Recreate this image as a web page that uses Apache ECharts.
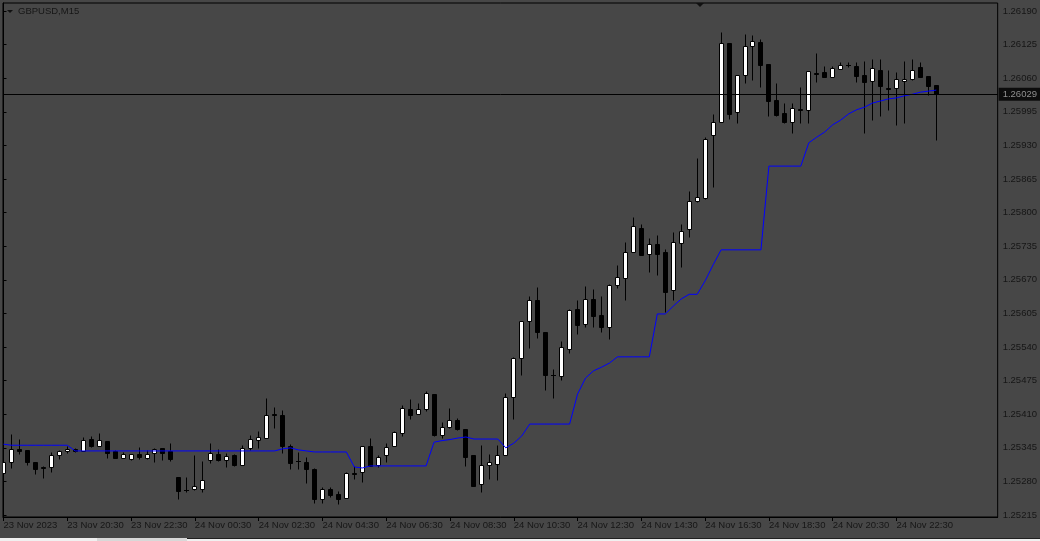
<!DOCTYPE html>
<html>
<head>
<meta charset="utf-8">
<title>GBPUSD,M15</title>
<script src="https://cdn.jsdelivr.net/npm/echarts@6/dist/echarts.min.js"></script>
<style>
  html, body { margin: 0; padding: 0; background: #474747; }
  #main { width: 1040px; height: 541px; }
</style>
</head>
<body>
<div id="main"></div>
<script>
// GBPUSD M15, one value per bar (bar 0 = 23 Nov 18:30)
var opens = [
  1.25296, 1.25318, 1.25343, 1.25341, 1.25318, 1.25308, 1.25308, 1.25331, 1.25339, 1.25343,
  1.25339, 1.25362, 1.25349, 1.25358, 1.25339, 1.25325, 1.25323, 1.25333, 1.25325, 1.25335,
  1.25345, 1.25339, 1.25289, 1.25264, 1.25265, 1.25265, 1.25321, 1.25333, 1.25321, 1.25331,
  1.25312, 1.25345, 1.25360, 1.25364, 1.25410, 1.25408, 1.25349, 1.25320, 1.25318, 1.25304,
  1.25246, 1.25265, 1.25256, 1.25248, 1.25296, 1.25298, 1.25349, 1.25312, 1.25331, 1.25349,
  1.25374, 1.25420, 1.25410, 1.25420, 1.25449, 1.25370, 1.25385, 1.25399, 1.25381, 1.25331,
  1.25275, 1.25312, 1.25314, 1.25331, 1.25443, 1.25519, 1.25590, 1.25631, 1.25569, 1.25486,
  1.25484, 1.25536, 1.25614, 1.25585, 1.25633, 1.25602, 1.25579, 1.25660, 1.25674, 1.25724,
  1.25770, 1.25720, 1.25739, 1.25724, 1.25650, 1.25741, 1.25768, 1.25823, 1.25828, 1.25950,
  1.25975, 1.26128, 1.25995, 1.26066, 1.26122, 1.26130, 1.26088, 1.26018, 1.25993, 1.25975,
  1.26000, 1.25999, 1.26070, 1.26072, 1.26062, 1.26078, 1.26086, 1.26084, 1.26066, 1.26055,
  1.26076, 1.26041, 1.26041, 1.26055, 1.26058, 1.26082, 1.26064, 1.26047
];
var closes = [
  1.25318, 1.25343, 1.25339, 1.25318, 1.25304, 1.25306, 1.25331, 1.25339, 1.25343, 1.25339,
  1.25360, 1.25349, 1.25360, 1.25335, 1.25325, 1.25333, 1.25333, 1.25327, 1.25333, 1.25343,
  1.25335, 1.25323, 1.25262, 1.25263, 1.25271, 1.25283, 1.25335, 1.25321, 1.25329, 1.25312,
  1.25345, 1.25362, 1.25366, 1.25408, 1.25408, 1.25349, 1.25316, 1.25319, 1.25304, 1.25246,
  1.25265, 1.25254, 1.25246, 1.25296, 1.25295, 1.25349, 1.25310, 1.25327, 1.25347, 1.25376,
  1.25422, 1.25408, 1.25420, 1.25451, 1.25370, 1.25385, 1.25399, 1.25381, 1.25327, 1.25271,
  1.25312, 1.25318, 1.25331, 1.25443, 1.25519, 1.25590, 1.25631, 1.25569, 1.25486, 1.25485,
  1.25540, 1.25612, 1.25583, 1.25633, 1.25600, 1.25579, 1.25660, 1.25675, 1.25724, 1.25774,
  1.25718, 1.25739, 1.25720, 1.25646, 1.25743, 1.25764, 1.25823, 1.25830, 1.25942, 1.25975,
  1.26128, 1.25991, 1.26066, 1.26122, 1.26132, 1.26086, 1.26016, 1.25989, 1.25975, 1.26002,
  1.25999, 1.26074, 1.26069, 1.26062, 1.26080, 1.26086, 1.26085, 1.26064, 1.26053, 1.26080,
  1.26045, 1.26040, 1.26058, 1.26058, 1.26076, 1.26062, 1.26045, 1.26029
];
var lows = [
  1.25292, 1.25306, 1.25333, 1.25312, 1.25294, 1.25287, 1.25298, 1.25323, 1.25335, 1.25337,
  1.25339, 1.25347, 1.25349, 1.25325, 1.25325, 1.25325, 1.25321, 1.25323, 1.25323, 1.25318,
  1.25321, 1.25320, 1.25246, 1.25260, 1.25263, 1.25260, 1.25316, 1.25320, 1.25308, 1.25310,
  1.25312, 1.25341, 1.25345, 1.25364, 1.25383, 1.25335, 1.25304, 1.25304, 1.25277, 1.25238,
  1.25238, 1.25250, 1.25236, 1.25248, 1.25285, 1.25279, 1.25310, 1.25308, 1.25318, 1.25349,
  1.25368, 1.25401, 1.25410, 1.25416, 1.25368, 1.25364, 1.25383, 1.25380, 1.25310, 1.25271,
  1.25260, 1.25285, 1.25283, 1.25331, 1.25401, 1.25486, 1.25538, 1.25557, 1.25457, 1.25441,
  1.25476, 1.25528, 1.25565, 1.25579, 1.25579, 1.25569, 1.25556, 1.25654, 1.25631, 1.25724,
  1.25718, 1.25685, 1.25679, 1.25608, 1.25631, 1.25695, 1.25753, 1.25821, 1.25826, 1.25850,
  1.25975, 1.25981, 1.25973, 1.26051, 1.26057, 1.26043, 1.25987, 1.25987, 1.25973, 1.25954,
  1.25973, 1.25973, 1.26053, 1.26062, 1.26062, 1.26078, 1.26082, 1.26053, 1.25954, 1.25979,
  1.25987, 1.25999, 1.25970, 1.25973, 1.26057, 1.26062, 1.26028, 1.25941
];
var highs = [
  1.25345, 1.25372, 1.25362, 1.25341, 1.25318, 1.25310, 1.25337, 1.25341, 1.25349, 1.25345,
  1.25366, 1.25368, 1.25374, 1.25358, 1.25341, 1.25337, 1.25333, 1.25347, 1.25341, 1.25345,
  1.25345, 1.25354, 1.25289, 1.25289, 1.25331, 1.25320, 1.25354, 1.25343, 1.25335, 1.25333,
  1.25350, 1.25370, 1.25378, 1.25441, 1.25424, 1.25418, 1.25352, 1.25337, 1.25327, 1.25306,
  1.25269, 1.25269, 1.25262, 1.25298, 1.25310, 1.25349, 1.25364, 1.25331, 1.25354, 1.25378,
  1.25428, 1.25439, 1.25432, 1.25455, 1.25449, 1.25395, 1.25422, 1.25403, 1.25381, 1.25331,
  1.25350, 1.25333, 1.25350, 1.25451, 1.25521, 1.25590, 1.25639, 1.25656, 1.25569, 1.25498,
  1.25552, 1.25614, 1.25631, 1.25658, 1.25652, 1.25639, 1.25662, 1.25699, 1.25743, 1.25792,
  1.25778, 1.25751, 1.25757, 1.25730, 1.25763, 1.25778, 1.25842, 1.25906, 1.25946, 1.25991,
  1.26149, 1.26128, 1.26066, 1.26146, 1.26144, 1.26136, 1.26088, 1.26051, 1.26012, 1.26012,
  1.26043, 1.26074, 1.26109, 1.26084, 1.26084, 1.26091, 1.26091, 1.26091, 1.26093, 1.26097,
  1.26097, 1.26076, 1.26072, 1.26093, 1.26097, 1.26091, 1.26064, 1.26047
];
// blue indicator line, one value per bar
var blueLine = [
  1.25352, 1.25350, 1.25350, 1.25350, 1.25350, 1.25350, 1.25350, 1.25350, 1.25350, 1.25339,
  1.25339, 1.25339, 1.25339, 1.25339, 1.25339, 1.25339, 1.25339, 1.25339, 1.25339, 1.25339,
  1.25339, 1.25339, 1.25339, 1.25339, 1.25339, 1.25339, 1.25339, 1.25339, 1.25339, 1.25339,
  1.25339, 1.25339, 1.25339, 1.25339, 1.25339, 1.25343, 1.25345, 1.25341, 1.25339, 1.25337,
  1.25337, 1.25337, 1.25337, 1.25337, 1.25308, 1.25306, 1.25310, 1.25310, 1.25310, 1.25310,
  1.25310, 1.25310, 1.25310, 1.25310, 1.25356, 1.25359, 1.25361, 1.25364, 1.25366, 1.25362,
  1.25362, 1.25362, 1.25362, 1.25345, 1.25354, 1.25368, 1.25391, 1.25391, 1.25391, 1.25391,
  1.25391, 1.25391, 1.25449, 1.25480, 1.25494, 1.25501, 1.25509, 1.25521, 1.25521, 1.25521,
  1.25521, 1.25521, 1.25604, 1.25604, 1.25619, 1.25633, 1.25642, 1.25642, 1.25668, 1.25699,
  1.25728, 1.25728, 1.25728, 1.25728, 1.25728, 1.25728, 1.25890, 1.25890, 1.25890, 1.25890,
  1.25890, 1.25935, 1.25946, 1.25956, 1.25970, 1.25979, 1.25991, 1.25999, 1.26004, 1.26012,
  1.26016, 1.26020, 1.26022, 1.26026, 1.26029, 1.26033, 1.26035, 1.26037
];
var lastPrice = 1.26029;

var tickBars = [0, 8, 16, 24, 32, 40, 48, 56, 64, 72, 80, 88, 96, 104, 112];
var tickLabels = [
  '23 Nov 2023', '23 Nov 20:30', '23 Nov 22:30', '24 Nov 00:30', '24 Nov 02:30',
  '24 Nov 04:30', '24 Nov 06:30', '24 Nov 08:30', '24 Nov 10:30', '24 Nov 12:30',
  '24 Nov 14:30', '24 Nov 16:30', '24 Nov 18:30', '24 Nov 20:30', '24 Nov 22:30'
];
var priceTicks = [
  1.25215, 1.25280, 1.25345, 1.25410, 1.25475, 1.25540, 1.25605, 1.25670,
  1.25735, 1.25800, 1.25865, 1.25930, 1.25995, 1.26060, 1.26125, 1.26190
];

var textColor = '#161616';
var font = 'Liberation Sans';

var candles = opens.map(function (o, i) {
  return [i, o, closes[i], lows[i], highs[i]];
});
var blueData = blueLine.map(function (v, i) { return [i, v]; });

function renderCandle(params, api) {
  var i = api.value(0);
  var pO = api.coord([i, api.value(1)]);
  var pC = api.coord([i, api.value(2)]);
  var pL = api.coord([i, api.value(3)]);
  var pH = api.coord([i, api.value(4)]);
  var x = Math.floor(pO[0]) + 0.5;
  var yO = Math.round(pO[1]), yC = Math.round(pC[1]);
  var yL = Math.round(pL[1]) + 0.5, yH = Math.round(pH[1]) + 0.5;
  var up = api.value(2) >= api.value(1);
  var top = Math.min(yO, yC), bot = Math.max(yO, yC);
  var children = [{
    type: 'line',
    shape: { x1: x, y1: yH, x2: x, y2: yL },
    style: { stroke: '#000', lineWidth: 1 }
  }];
  if (bot - top < 1) {
    children.push({
      type: 'line',
      shape: { x1: x - 2.5, y1: top + 0.5, x2: x + 2.5, y2: top + 0.5 },
      style: { stroke: '#000', lineWidth: 1 }
    });
  } else {
    children.push({
      type: 'rect',
      shape: { x: x - 2, y: top + 0.5, width: 4, height: bot - top },
      style: { fill: up ? '#fff' : '#000', stroke: '#000', lineWidth: 1 }
    });
  }
  return { type: 'group', children: children };
}

var chart = echarts.init(document.getElementById('main'), null, { renderer: 'canvas' });
chart.setOption({
  animation: false,
  backgroundColor: '#474747',
  grid: {
    left: 3, right: 39, top: 3, bottom: 24,
    show: true, borderColor: '#000', borderWidth: 1, backgroundColor: 'transparent'
  },
  xAxis: {
    type: 'value',
    min: -0.0625,
    max: 124.6875,
    splitLine: { show: false },
    axisLine: { show: true, lineStyle: { color: '#000', width: 1 } },
    axisTick: { show: true, customValues: tickBars, length: 4, lineStyle: { color: '#000' } },
    axisLabel: {
      customValues: tickBars,
      formatter: function (v) { return tickLabels[tickBars.indexOf(v)] || ''; },
      align: 'left',
      margin: 3,
      color: textColor,
      fontSize: 9.5,
      fontFamily: font
    }
  },
  yAxis: {
    type: 'value',
    position: 'right',
    min: 1.252112,
    max: 1.262055,
    splitLine: { show: false },
    axisLine: { show: true, lineStyle: { color: '#000', width: 1 } },
    axisTick: { show: true, customValues: priceTicks, length: 3, lineStyle: { color: '#000' } },
    axisLabel: {
      customValues: priceTicks,
      formatter: function (v) { return v.toFixed(5); },
      margin: 5,
      color: textColor,
      fontSize: 9.5,
      fontFamily: font
    }
  },
  series: [
    {
      type: 'custom',
      name: 'GBPUSD',
      renderItem: renderCandle,
      encode: { x: 0, y: [1, 2, 3, 4] },
      data: candles,
      clip: true,
      z: 2
    },
    {
      type: 'line',
      name: 'indicator',
      data: blueData,
      showSymbol: false,
      symbol: 'none',
      lineStyle: { color: '#0000ff', width: 1 },
      z: 3,
      markLine: {
        silent: true,
        precision: 5,
        symbol: ['none', 'none'],
        lineStyle: { color: '#000', width: 1, type: 'solid' },
        label: {
          show: true,
          position: 'end',
          distance: 1,
          formatter: function () { return lastPrice.toFixed(5); },
          color: '#8f8f8f',
          backgroundColor: '#0c0c0c',
          padding: [2, 4, 1, 4],
          fontSize: 9.5,
          fontFamily: font
        },
        data: [{ yAxis: lastPrice }]
      }
    }
  ],
  graphic: [
    { type: 'polygon', shape: { points: [[7, 10], [13, 10], [10, 13]] }, style: { fill: '#111' } },
    { type: 'text', left: 18, top: 6, style: { text: 'GBPUSD,M15', fill: textColor, fontSize: 9.5, fontFamily: font } },
    { type: 'polygon', shape: { points: [[696, 3], [704, 3], [700, 7]] }, style: { fill: '#111' } },
    { type: 'rect', shape: { x: 0, y: 538, width: 1040, height: 3 }, style: { fill: '#f0f0f0' } },
    { type: 'rect', shape: { x: 97, y: 538, width: 90, height: 3 }, style: { fill: '#d8d8d8' } },
    { type: 'rect', shape: { x: 187, y: 538, width: 853, height: 1 }, style: { fill: '#202020' } }
  ]
});
</script>
</body>
</html>
